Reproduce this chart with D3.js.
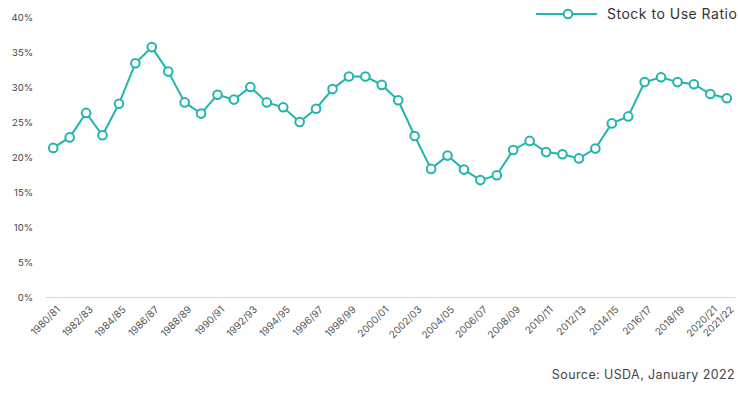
<!DOCTYPE html>
<html>
<head>
<meta charset="utf-8">
<script src="https://cdn.jsdelivr.net/npm/d3@7"></script>
<style>
  body { margin: 0; background: #fff; font-family: Inter, "Noto Sans", sans-serif; overflow: hidden; }
  svg { display: block; }
</style>
</head>
<body>
<div id="chart"></div>
<script>
const years = ['1980/81','1981/82','1982/83','1983/84','1984/85','1985/86','1986/87','1987/88','1988/89','1989/90',
  '1990/91','1991/92','1992/93','1993/94','1994/95','1995/96','1996/97','1997/98','1998/99','1999/00',
  '2000/01','2001/02','2002/03','2003/04','2004/05','2005/06','2006/07','2007/08','2008/09','2009/10',
  '2010/11','2011/12','2012/13','2013/14','2014/15','2015/16','2016/17','2017/18','2018/19','2019/20',
  '2020/21','2021/22'];
const ratio = [21.3, 22.8, 26.3, 23.1, 27.6, 33.4, 35.7, 32.2, 27.8, 26.2,
  28.9, 28.2, 30.0, 27.8, 27.1, 25.0, 26.9, 29.7, 31.5, 31.5,
  30.3, 28.1, 23.0, 18.3, 20.2, 18.2, 16.7, 17.4, 21.0, 22.3,
  20.7, 20.4, 19.8, 21.2, 24.8, 25.8, 30.7, 31.4, 30.7, 30.4,
  29.0, 28.4];
const yTicks = [0, 5, 10, 15, 20, 25, 30, 35, 40];
const xTicks = years.filter((d, i) => i % 2 === 0).concat(['2021/22']);

const width = 738;
const height = 394;
const margin = {top: 17, left: 45, bottom: 97, right: 3};
const color = '#22b5ad';

const x = d3.scalePoint()
    .domain(years)
    .range([margin.left, width - margin.right])
    .padding(0.5);

const y = d3.scaleLinear()
    .domain([0, 40])
    .range([height - margin.bottom, margin.top]);

const svg = d3.select('#chart').append('svg')
    .attr('width', width)
    .attr('height', height);

// y axis labels
svg.append('g')
    .attr('transform', `translate(${margin.left - 9}, 0)`)
    .call(d3.axisLeft(y).tickValues(yTicks).tickFormat(d => d + '%').tickSize(0))
    .call(g => g.select('.domain').remove())
    .call(g => g.selectAll('text')
        .attr('fill', '#444')
        .style('font-size', '9.5px')
        .style('font-family', 'Inter, sans-serif'));

// x axis
svg.append('g')
    .attr('transform', `translate(0, ${y(0)})`)
    .call(d3.axisBottom(x).tickValues(xTicks).tickSize(0).tickSizeOuter(0))
    .call(g => g.select('.domain').attr('stroke', '#d8d8d8'))
    .call(g => g.selectAll('text')
        .attr('fill', '#555')
        .attr('text-anchor', 'end')
        .attr('dy', 0)
        .attr('transform', 'translate(5, 11) rotate(-45)')
        .style('font-size', '10px')
        .style('font-family', 'Inter, sans-serif'));

const line = d3.line()
    .x((d, i) => x(years[i]))
    .y(d => y(d));

svg.append('path')
    .datum(ratio)
    .attr('fill', 'none')
    .attr('stroke', color)
    .attr('stroke-width', 2)
    .attr('d', line);

svg.append('g')
    .selectAll('circle').data(ratio).enter().append('circle')
    .attr('cx', (d, i) => x(years[i]))
    .attr('cy', d => y(d))
    .attr('r', 4.3)
    .attr('fill', '#fff')
    .attr('stroke', color)
    .attr('stroke-width', 2);

// legend (text runs slightly past the right edge, as in the original)
const legend = svg.append('g').attr('transform', 'translate(536, 14)');
legend.append('line')
    .attr('x1', 0).attr('x2', 61)
    .attr('stroke', color).attr('stroke-width', 2);
legend.append('circle')
    .attr('cx', 32).attr('r', 4.3)
    .attr('fill', '#fff').attr('stroke', color).attr('stroke-width', 2);
legend.append('text')
    .attr('x', 71).attr('dy', '0.35em')
    .attr('fill', '#333')
    .style('font-size', '14px')
    .style('letter-spacing', '0.5px')
    .text('Stock to Use Ratio');

// source
svg.append('text')
    .attr('x', 735).attr('y', 379)
    .attr('text-anchor', 'end')
    .attr('fill', '#444')
    .style('font-size', '12.5px')
    .style('letter-spacing', '0.4px')
    .text('Source: USDA, January 2022');
</script>
</body>
</html>
